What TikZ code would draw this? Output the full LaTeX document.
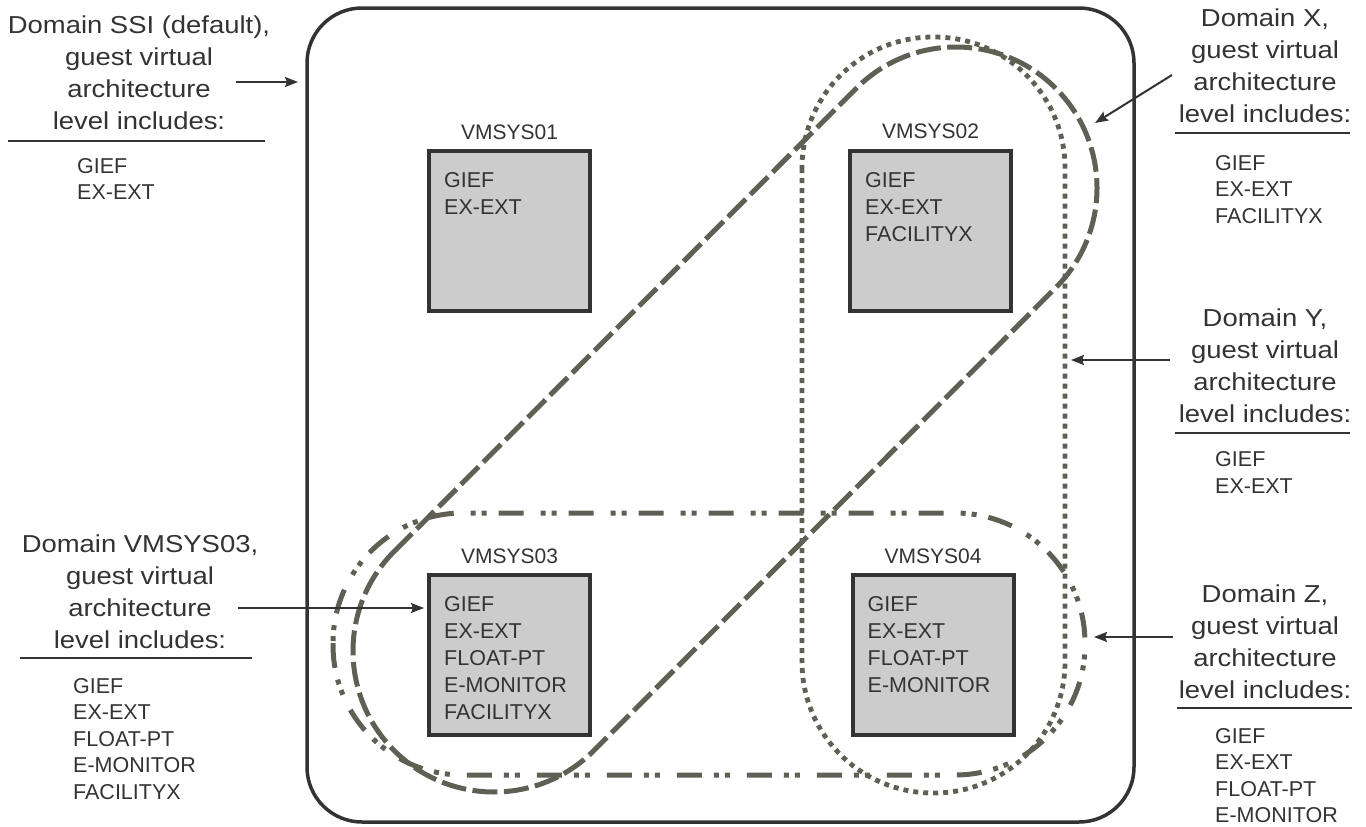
\documentclass[tikz,border=0pt]{standalone}
\usepackage{fontspec}
\setmainfont{Liberation Sans}
\newfontfamily\lblfont[FakeStretch=1.12]{Liberation Sans}
\usetikzlibrary{arrows.meta,calc}
\definecolor{txt}{HTML}{333333}
\definecolor{dom}{RGB}{95,95,84}
\definecolor{boxfill}{HTML}{CCCCCC}
\newcommand\lblc[1]{\begin{tabular}[t]{@{}c@{}}#1\end{tabular}}
\newcommand\lstl[1]{\begin{tabular}[t]{@{}l@{}}#1\end{tabular}}
\begin{document}
\begin{tikzpicture}[x=1pt,y=-1pt,
  lbl/.style={anchor=base, inner sep=0, text=txt, font=\lblfont\fontsize{24.5}{32}\selectfont},
  lst/.style={anchor=base west, inner sep=0, text=txt, font=\fontsize{21.5}{26.5}\selectfont},
  boxtxt/.style={anchor=base west, inner sep=0, text=txt, font=\fontsize{21.5}{27}\selectfont},
  vmlbl/.style={anchor=base, inner sep=0, text=txt, font=\fontsize{21}{25}\selectfont},
  vm/.style={draw=txt, fill=boxfill, line width=4, minimum width=161, minimum height=160, inner sep=0},
  uline/.style={draw=txt, line width=2},
  arr/.style={draw=txt, line width=2, -{Stealth[length=13pt,width=10pt,inset=2pt]}},
  outer/.style={draw=txt, line width=3.5, rounded corners=55},
  domx/.style={draw=dom, line width=5, dash pattern=on 25 off 6.5},
  domy/.style={draw=dom, line width=4.8, dash pattern=on 5 off 5},
  domz/.style={draw=dom, line width=5, dash pattern=on 25 off 12 on 5 off 6 on 5 off 17}
]
\useasboundingbox (0,0) rectangle (1366,827);

% outer SSI box
\draw[outer] (307,8) rectangle (1134,822);

% domain shapes
\draw[domy, rounded corners=131] (802,37) rectangle (1065,793);
\draw[domz, rounded corners=130] (333,513) rectangle (1085,775);
\draw[domx] (394.3,551.3) -- (856.3,88.3) arc[start angle=225,end angle=405,radius=141]
  -- (593.7,750.7) arc[start angle=45,end angle=225,radius=141] -- cycle;

% system boxes
\node[vm] (b1) at (509.5,231) {};
\node[vm] (b2) at (930.5,230.5) {};
\node[vm] (b3) at (509.5,655) {};
\node[vm] (b4) at (933,655) {};

\node[vmlbl] (l1) at ($(b1.north)+(0,-10)$) {VMSYS01};
\node[vmlbl] (l2) at ($(b2.north)+(0,-10)$) {VMSYS02};
\node[vmlbl] (l3) at ($(b3.north)+(0,-10)$) {VMSYS03};
\node[vmlbl] (l4) at ($(b4.north)+(0,-10)$) {VMSYS04};

\node[boxtxt] (t1) at ($(b1.north west)+(17,38.5)$) {\lstl{GIEF\\EX-EXT}};
\node[boxtxt] (t2) at ($(b2.north west)+(17,38.5)$) {\lstl{GIEF\\EX-EXT\\FACILITYX}};
\node[boxtxt] (t3) at ($(b3.north west)+(17,38.5)$) {\lstl{GIEF\\EX-EXT\\FLOAT-PT\\E-MONITOR\\FACILITYX}};
\node[boxtxt] (t4) at ($(b4.north west)+(17,38.5)$) {\lstl{GIEF\\EX-EXT\\FLOAT-PT\\E-MONITOR}};

% left labels
\node[lbl] (ssi) at (139,33.3) {\lblc{Domain SSI (default),\\guest virtual\\architecture\\level includes:}};
\draw[uline] (8,141) -- (265,141);
\node[lst] (ssil) at (77,173) {\lstl{GIEF\\EX-EXT}};
\coordinate (ssiS) at (236,82);
\coordinate (ssiT) at (298,82);
\draw[arr] (ssiS) -- (ssiT);

\node[lbl] (d3) at (140,552) {\lblc{Domain VMSYS03,\\guest virtual\\architecture\\level includes:}};
\draw[uline] (20,658) -- (252,658);
\node[lst] (d3l) at (73,693) {\lstl{GIEF\\EX-EXT\\FLOAT-PT\\E-MONITOR\\FACILITYX}};
\coordinate (d3S) at (238,608);
\coordinate (d3T) at (424,608);
\draw[arr] (d3S) -- (d3T);

% right labels
\node[lbl] (dx) at (1265,26.7) {\lblc{Domain X,\\guest virtual\\architecture\\level includes:}};
\draw[uline] (1175,133) -- (1350,133);
\node[lst] (dxl) at (1215,170) {\lstl{GIEF\\EX-EXT\\FACILITYX}};
\coordinate (dxS) at (1172,75);
\coordinate (dxT) at (1095,123);
\draw[arr] (dxS) -- (dxT);

\node[lbl] (dy) at (1265,326.7) {\lblc{Domain Y,\\guest virtual\\architecture\\level includes:}};
\draw[uline] (1175,433.3) -- (1350,433.3);
\node[lst] (dyl) at (1215,466.7) {\lstl{GIEF\\EX-EXT}};
\coordinate (dyS) at (1170,360);
\coordinate (dyT) at (1071,360);
\draw[arr] (dyS) -- (dyT);

\node[lbl] (dz) at (1265,602) {\lblc{Domain Z,\\guest virtual\\architecture\\level includes:}};
\draw[uline] (1177,708) -- (1352,708);
\node[lst] (dzl) at (1215,743) {\lstl{GIEF\\EX-EXT\\FLOAT-PT\\E-MONITOR}};
\coordinate (dzS) at (1173,637);
\coordinate (dzT) at (1094,637);
\draw[arr] (dzS) -- (dzT);
\end{tikzpicture}
\end{document}
